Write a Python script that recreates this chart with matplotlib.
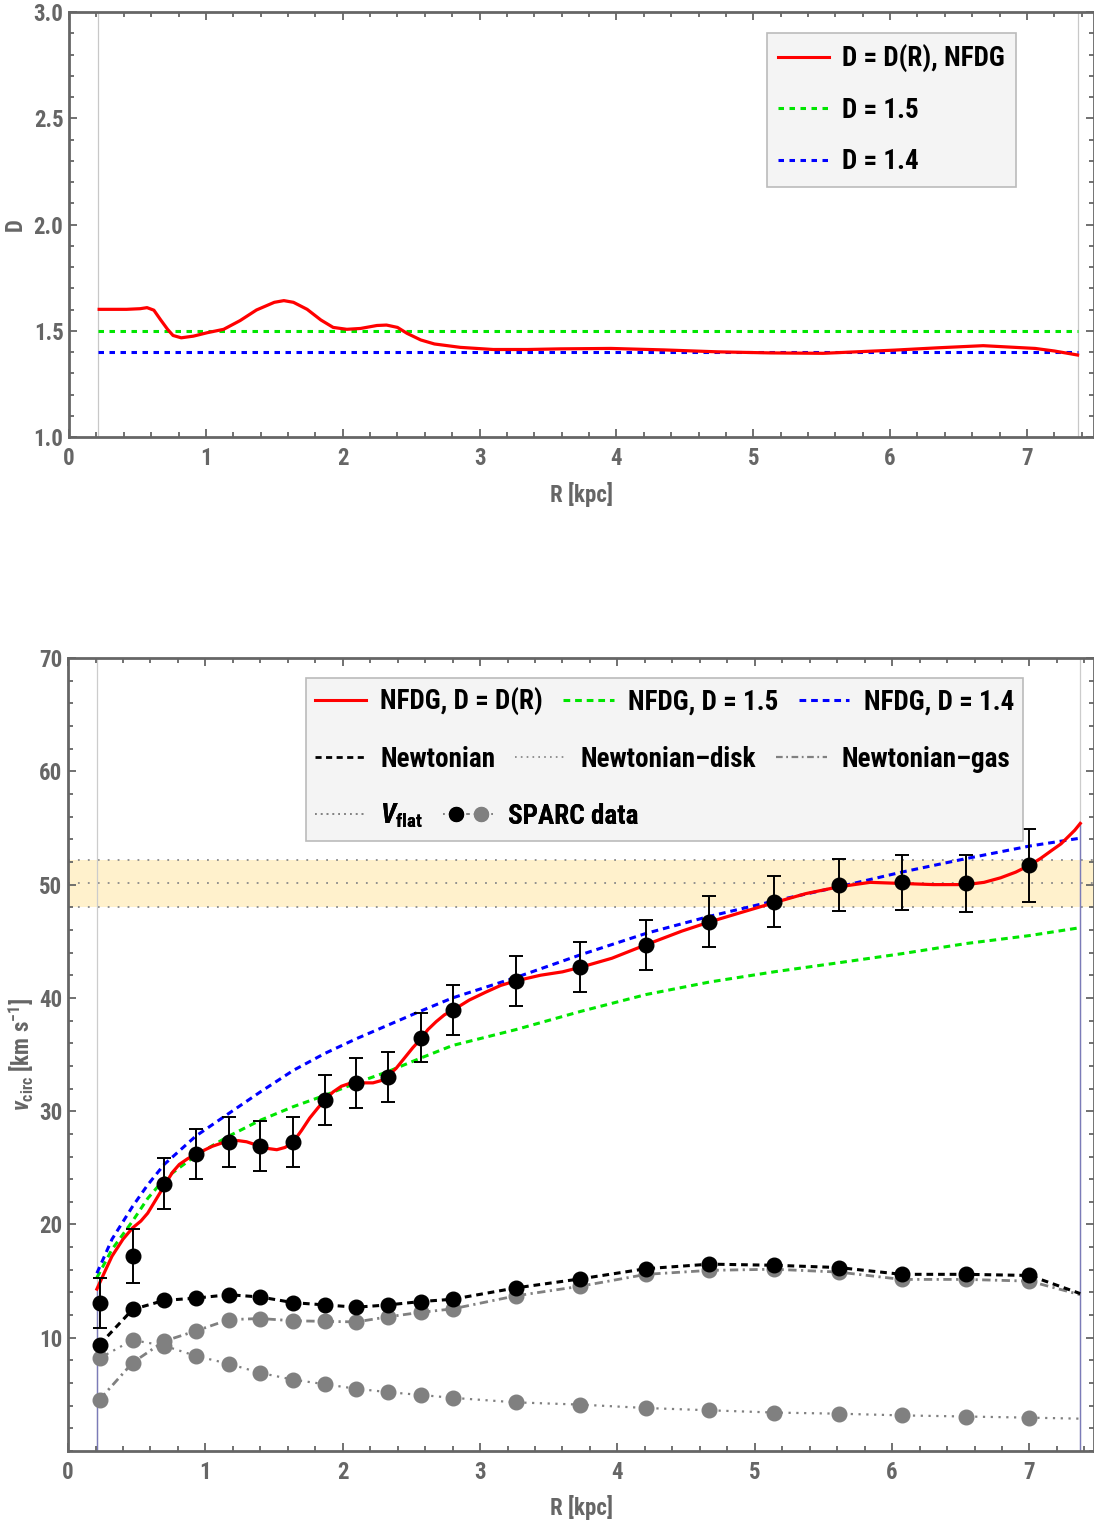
import numpy as np
import matplotlib
matplotlib.use('Agg')
import matplotlib.pyplot as plt
from matplotlib.lines import Line2D
from matplotlib.patches import Rectangle
from matplotlib.legend_handler import HandlerTuple
from matplotlib.ticker import MultipleLocator, FormatStrFormatter
from matplotlib import font_manager

# pick a condensed sans if one is installed
installed = {f.name for f in font_manager.fontManager.ttflist}
FONT = next(n for n in ['Roboto Condensed', 'Liberation Sans Narrow', 'DejaVu Sans Condensed',
                        'Liberation Sans', 'DejaVu Sans'] if n in installed)
narrow = FONT in ('Roboto Condensed', 'Liberation Sans Narrow', 'DejaVu Sans Condensed')
SCALE = 1.0 if narrow else 0.88

plt.rcParams['font.family'] = [FONT, 'DejaVu Sans']
plt.rcParams['font.weight'] = 'bold'
plt.rcParams['axes.labelweight'] = 'bold'
plt.rcParams['mathtext.fontset'] = 'custom'
plt.rcParams['mathtext.rm'] = FONT + ':bold'
plt.rcParams['mathtext.it'] = FONT + ':italic:bold'
plt.rcParams['mathtext.bf'] = FONT + ':bold'

# ---- top panel: fractal dimension D(R) ----
R_D = [0.22, 0.42, 0.52, 0.57, 0.62, 0.67, 0.72, 0.76, 0.82, 0.91, 1.01, 1.13, 1.25,
       1.37, 1.50, 1.57, 1.64, 1.74, 1.84, 1.93, 2.03, 2.13, 2.25, 2.32, 2.40, 2.47,
       2.57, 2.67, 2.86, 3.10, 3.35, 3.59, 3.96, 4.35, 4.74, 5.12, 5.51, 6.03, 6.35,
       6.68, 7.06, 7.20, 7.37]
D_R = [1.601, 1.601, 1.604, 1.609, 1.597, 1.551, 1.507, 1.478, 1.467, 1.475, 1.491,
       1.507, 1.548, 1.598, 1.634, 1.642, 1.634, 1.601, 1.551, 1.516, 1.507, 1.511,
       1.525, 1.527, 1.516, 1.488, 1.457, 1.438, 1.422, 1.412, 1.412, 1.415, 1.417,
       1.410, 1.401, 1.396, 1.394, 1.409, 1.420, 1.430, 1.417, 1.405, 1.386]
D_fixed = [1.5, 1.4]
R_min, R_max = 0.21, 7.37

# ---- bottom panel: rotation curve ----
R_obs = [0.23, 0.47, 0.70, 0.93, 1.17, 1.40, 1.64, 1.87, 2.10, 2.33, 2.57, 2.80,
         3.26, 3.73, 4.21, 4.67, 5.14, 5.61, 6.07, 6.54, 7.00]
v_obs = [13.1, 17.2, 23.6, 26.2, 27.3, 26.9, 27.3, 31.0, 32.5, 33.0, 36.5, 38.9,
         41.5, 42.7, 44.7, 46.7, 48.5, 50.0, 50.2, 50.1, 51.7]
v_err = [2.2, 2.4, 2.25, 2.2, 2.2, 2.2, 2.2, 2.2, 2.2, 2.2, 2.2, 2.2,
         2.2, 2.2, 2.2, 2.25, 2.25, 2.3, 2.4, 2.55, 3.25]
v_bar = [9.4, 12.5, 13.3, 13.5, 13.8, 13.6, 13.1, 12.9, 12.7, 12.9, 13.2, 13.4,
         14.4, 15.2, 16.1, 16.5, 16.4, 16.2, 15.6, 15.6, 15.5]
v_disk = [8.2, 9.8, 9.3, 8.4, 7.7, 6.9, 6.3, 5.9, 5.5, 5.2, 4.95, 4.7,
          4.3, 4.1, 3.8, 3.6, 3.4, 3.3, 3.15, 3.05, 2.95]
v_gas = [4.55, 7.8, 9.7, 10.6, 11.6, 11.7, 11.5, 11.45, 11.4, 11.85, 12.25, 12.55,
         13.7, 14.55, 15.6, 15.95, 16.05, 15.8, 15.15, 15.15, 15.0]
# values where the newtonian curves end (R_max)
v_bar_end, v_disk_end, v_gas_end = 13.9, 2.86, 13.8

v_flat, v_flat_err = 50.1, 2.1

R_mod = [0.21, 0.32, 0.47, 0.58, 0.70, 0.93, 1.17, 1.40, 1.64, 1.87, 2.10, 2.33,
         2.57, 2.80, 3.26, 3.73, 4.21, 4.67, 5.14, 5.61, 6.07, 6.54, 7.00, 7.37]
v_D15 = [15.3, 17.8, 20.3, 22.3, 24.0, 26.1, 27.8, 29.2, 30.4, 31.4, 32.5, 33.5,
         34.7, 35.8, 37.2, 38.8, 40.3, 41.4, 42.3, 43.1, 43.9, 44.8, 45.5, 46.2]
v_D14 = [15.7, 18.7, 21.6, 23.5, 25.3, 27.8, 29.8, 31.7, 33.6, 35.1, 36.4, 37.6,
         38.85, 40.0, 41.8, 43.8, 45.7, 47.2, 48.55, 49.8, 51.1, 52.3, 53.4, 54.1]

R_fit = [0.21, 0.27, 0.32, 0.40, 0.47, 0.53, 0.58, 0.64, 0.70, 0.76, 0.81, 0.87,
         0.93, 1.05, 1.17, 1.24, 1.30, 1.40, 1.46, 1.52, 1.58, 1.64, 1.70, 1.76,
         1.82, 1.87, 1.93, 1.99, 2.05, 2.10, 2.16, 2.22, 2.28, 2.33, 2.39, 2.45,
         2.51, 2.57, 2.62, 2.68, 2.74, 2.80, 2.92, 3.04, 3.15, 3.26, 3.44, 3.60,
         3.73, 3.96, 4.21, 4.47, 4.67, 4.89, 5.14, 5.37, 5.61, 5.84, 6.07, 6.30,
         6.54, 6.67, 6.79, 6.90, 7.00, 7.08, 7.16, 7.23, 7.28, 7.33, 7.37]
v_fit = [14.3, 15.9, 17.2, 18.7, 19.7, 20.3, 21.0, 22.2, 23.4, 24.6, 25.3, 25.8,
         26.2, 26.9, 27.4, 27.4, 27.3, 26.9, 26.7, 26.6, 26.8, 27.3, 28.3, 29.4,
         30.3, 31.0, 31.7, 32.2, 32.45, 32.5, 32.5, 32.5, 32.7, 33.1, 33.8, 34.7,
         35.6, 36.4, 37.2, 37.9, 38.5, 38.9, 39.8, 40.5, 41.1, 41.5, 42.0, 42.3,
         42.7, 43.5, 44.7, 45.9, 46.7, 47.5, 48.4, 49.2, 49.8, 50.2, 50.1, 50.0,
         50.0, 50.2, 50.6, 51.1, 51.7, 52.3, 53.0, 53.6, 54.2, 54.8, 55.4]

RED, GREEN, BLUE = '#FF0000', '#00E600', '#0000FF'
GREY = '#808080'
AXC = '#666666'
dash = (0, (2.2, 1.6))
dash_top = (0, (1.8, 1.8))
FS_LEG = 19.5 * SCALE
FS_TICK = 16.5 * SCALE
FS_LAB = 16.5 * SCALE


def style_axes(ax):
    for sp in ax.spines.values():
        sp.set_color(AXC)
        sp.set_linewidth(2)
    ax.tick_params(which='both', direction='in', top=True, right=True,
                   color=AXC, labelcolor=AXC, labelsize=FS_TICK, width=1.3)
    ax.tick_params(which='major', length=6)
    ax.tick_params(which='minor', length=3.5)
    ax.tick_params(axis='x', which='major', pad=7)
    ax.tick_params(axis='y', which='major', pad=4)
    ax.xaxis.set_major_locator(MultipleLocator(1))
    ax.xaxis.set_minor_locator(MultipleLocator(0.2))


fig = plt.figure(figsize=(10.94, 15.26), dpi=100)
ax1 = fig.add_axes([0.0631, 0.7136, 0.9369, 0.2785])
ax2 = fig.add_axes([0.0622, 0.0491, 0.9378, 0.5197])

# top panel
ax1.axvline(R_min, color='#C8C8C8', lw=0.9, zorder=1)
ax1.axvline(R_max, color='#C8C8C8', lw=0.9, zorder=1)
ax1.plot(R_D, D_R, color=RED, lw=2.3, zorder=3)
ax1.plot([R_min, R_max], [D_fixed[0]] * 2, color=GREEN, lw=2.2, ls=dash_top, zorder=2)
ax1.plot([R_min, R_max], [D_fixed[1]] * 2, color=BLUE, lw=2.2, ls=dash_top, zorder=2)
ax1.set_xlim(0, 7.49)
ax1.set_ylim(1.0, 3.0)
style_axes(ax1)
ax1.yaxis.set_major_locator(MultipleLocator(0.5))
ax1.yaxis.set_minor_locator(MultipleLocator(0.1))
ax1.yaxis.set_major_formatter(FormatStrFormatter('%.1f'))
ax1.set_xlabel('R [kpc]', color=AXC, fontsize=FS_LAB, labelpad=9)
ax1.set_ylabel('D', color=AXC, fontsize=FS_LAB, labelpad=5)

top_handles = [Line2D([], [], color=RED, lw=2.2),
               Line2D([], [], color=GREEN, lw=2.2, ls=dash_top),
               Line2D([], [], color=BLUE, lw=2.2, ls=dash_top)]
top_labels = ['D = D(R), NFDG', 'D = 1.5', 'D = 1.4']
leg = ax1.legend(top_handles, top_labels, loc='upper left',
                 bbox_to_anchor=(0.6807, 0.9506), borderaxespad=0,
                 fontsize=FS_LEG, handlelength=1.88 / SCALE, handletextpad=0.48 / SCALE,
                 labelspacing=0.9 / SCALE, borderpad=0.42 / SCALE, fancybox=False,
                 framealpha=1, facecolor='#F4F4F4', edgecolor='#BBBBBB')
leg.get_frame().set_linewidth(1.2)

# bottom panel
ax2.axhspan(v_flat - v_flat_err, v_flat + v_flat_err, color='#FFF1CC', lw=0, zorder=0)
for v in [v_flat - v_flat_err, v_flat, v_flat + v_flat_err]:
    ax2.axhline(v, color='#8A8A8A', lw=1.3, ls=(0, (1, 4.5)), zorder=1)
ax2.axvline(R_min, color='#CCCCCC', lw=0.9, zorder=1)
ax2.axvline(R_max, color='#CCCCCC', lw=0.9, zorder=1)
ax2.vlines([R_fit[0], R_fit[-1]], 0, [v_fit[0], v_fit[-1]], color='#7B7BB8', lw=1.0, zorder=1)

ax2.plot(R_obs + [R_max], v_disk + [v_disk_end], color=GREY, lw=1.6, ls=(0, (1, 2.5)), zorder=2)
ax2.plot(R_obs + [R_max], v_gas + [v_gas_end], color=GREY, lw=2.0, ls=(0, (3, 1.6, 0.8, 1.6)), zorder=2)
ax2.plot(R_obs + [R_max], v_bar + [v_bar_end], color='k', lw=2.2, ls=dash, zorder=2)
ax2.plot(R_mod, v_D15, color=GREEN, lw=2.2, ls=dash, zorder=2)
ax2.plot(R_mod, v_D14, color=BLUE, lw=2.2, ls=dash, zorder=2)
ax2.plot(R_fit, v_fit, color=RED, lw=2.3, zorder=3)

ax2.plot(R_obs, v_disk, 'o', color=GREY, ms=10.5, zorder=4)
ax2.plot(R_obs, v_gas, 'o', color=GREY, ms=10.5, zorder=4)
ax2.plot(R_obs, v_bar, 'o', color='k', ms=10.5, zorder=4)
ax2.errorbar(R_obs, v_obs, yerr=v_err, fmt='o', color='k', ms=10.5,
             elinewidth=1.4, capsize=5, capthick=1.4, zorder=4)

ax2.set_xlim(0, 7.47)
ax2.set_ylim(0, 70)
style_axes(ax2)
ax2.set_yticks(np.arange(10, 71, 10))
ax2.yaxis.set_minor_locator(MultipleLocator(2))
ax2.set_xlabel('R [kpc]', color=AXC, fontsize=FS_LAB, labelpad=8)
ax2.set_ylabel(r'$v_{\rm circ}$ [km s$^{-1}$]', color=AXC, fontsize=FS_LAB, labelpad=2)

# legend box for the bottom panel, three rows
ax2.add_patch(Rectangle((0.2322, 0.7692), 0.6985, 0.2056, transform=ax2.transAxes,
                        facecolor='#F4F4F4', edgecolor='#BBBBBB', lw=1.2, zorder=5))
leg_kw = dict(loc='center left', borderaxespad=0, borderpad=0, frameon=False,
              fontsize=FS_LEG, handlelength=1.88 / SCALE, handletextpad=0.52 / SCALE,
              columnspacing=0.74 / SCALE)
rows = [
    ([Line2D([], [], color=RED, lw=2.2),
      Line2D([], [], color=GREEN, lw=2.2, ls=dash),
      Line2D([], [], color=BLUE, lw=2.2, ls=dash)],
     ['NFDG, D = D(R)', 'NFDG, D = 1.5', 'NFDG, D = 1.4'], 0.9445),
    ([Line2D([], [], color='k', lw=2.0, ls=dash),
      Line2D([], [], color=GREY, lw=1.2, ls=(0, (1, 2.5))),
      Line2D([], [], color=GREY, lw=1.6, ls=(0, (3, 1.6, 0.8, 1.6)))],
     ['Newtonian', 'Newtonian\u2013disk', 'Newtonian\u2013gas'], 0.8726),
    ([Line2D([], [], color=GREY, lw=1.2, ls=(0, (1, 2.5))),
      (Line2D([], [], color=GREY, lw=1.2, ls=(0, (1, 2.5)), marker='o', ms=10, mfc='k', mec='k'),
       Line2D([], [], color=GREY, lw=1.2, ls=(0, (1, 2.5)), marker='o', ms=10, mfc=GREY, mec=GREY))],
     [r'$V_{\rm flat}$', 'SPARC data'], 0.8008),
]
for handles, labels, yrow in rows:
    lg = ax2.legend(handles, labels, ncol=len(handles), bbox_to_anchor=(0.241, yrow),
                    handler_map={tuple: HandlerTuple(ndivide=2, pad=0)}, **leg_kw)
    lg.set_zorder(6)
    ax2.add_artist(lg)

fig.savefig('out.png', dpi=100)
